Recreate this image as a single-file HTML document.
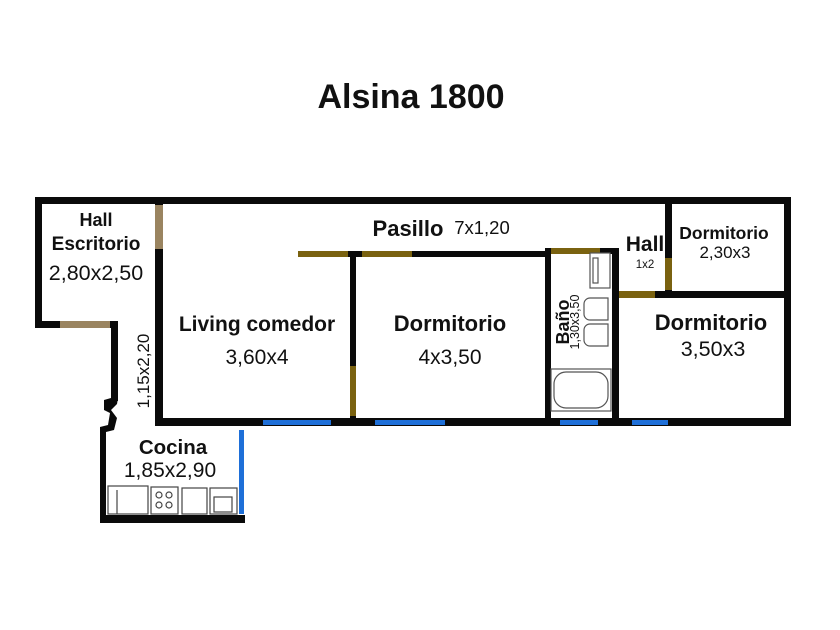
<!DOCTYPE html>
<html><head><style>
body{margin:0;background:#fff;}
svg{display:block;}
text{font-family:"Liberation Sans","DejaVu Sans",sans-serif;}
</style></head><body>
<svg width="840" height="630" viewBox="0 0 840 630" xmlns="http://www.w3.org/2000/svg">
<rect width="840" height="630" fill="#fff"/>
<text x="411" y="108" text-anchor="middle" font-size="34" font-weight="bold" fill="#111">Alsina 1800</text>
<g fill="#0a0a0a">
<rect x="35" y="197" width="756" height="7"/>
<rect x="35" y="197" width="7" height="131"/>
<rect x="35" y="321" width="82" height="7"/>
<rect x="155" y="197" width="8" height="229"/>
<rect x="111" y="321" width="7" height="80"/>
<polygon points="111,398 104,400 104,410 110,413 108,425 100,427 100,523 106,523 106,432 114,430 117,418 111,410 117,404 118,398"/>
<rect x="100" y="515" width="145" height="8"/>
<rect x="155" y="418" width="90" height="8"/>
<rect x="155" y="418" width="636" height="8"/>
<rect x="784" y="197" width="7" height="229"/>
<rect x="350" y="251" width="6" height="175"/>
<rect x="298" y="251" width="250" height="6"/>
<rect x="545" y="248" width="6" height="178"/>
<rect x="545" y="248" width="70" height="6"/>
<rect x="612" y="248" width="7" height="178"/>
<rect x="612" y="291" width="179" height="7"/>
<rect x="665" y="197" width="7" height="100"/>
</g>
<g fill="#7a6210">
<rect x="298" y="251" width="50" height="6"/>
<rect x="362" y="251" width="50" height="6"/>
<rect x="551" y="248" width="49" height="6"/>
<rect x="619" y="291" width="36" height="7"/>
<rect x="665" y="258" width="7" height="32"/>
<rect x="350" y="366" width="6" height="50"/>
</g>
<rect x="155" y="205" width="8" height="44" fill="#9a8460"/>
<rect x="60" y="321" width="50" height="7" fill="#9a8460"/>
<g fill="#1e6fd8">
<rect x="263" y="420" width="68" height="5"/>
<rect x="375" y="420" width="70" height="5"/>
<rect x="560" y="420" width="38" height="5"/>
<rect x="632" y="420" width="36" height="5"/>
<rect x="239" y="430" width="5" height="84"/>
</g>
<g fill="#fff" stroke="#444" stroke-width="1.2">
<rect x="108" y="486" width="40" height="28"/>
<line x1="117" y1="490" x2="117" y2="514"/>
<rect x="151" y="487" width="27" height="27"/>
<circle cx="159" cy="495" r="3"/><circle cx="169" cy="495" r="3"/>
<circle cx="159" cy="505" r="3"/><circle cx="169" cy="505" r="3"/>
<rect x="182" y="488" width="25" height="26"/>
<rect x="210" y="488" width="27" height="26"/>
<rect x="214" y="497" width="18" height="15"/>
</g>
<g fill="#fff" stroke="#555" stroke-width="1.2">
<rect x="590" y="253" width="20" height="35"/>
<rect x="593" y="258" width="5" height="25"/>
<path d="M590 298 h18 v22 h-18 a6 6 0 0 1 -6 -6 v-10 a6 6 0 0 1 6 -6z"/>
<path d="M590 324 h18 v22 h-18 a6 6 0 0 1 -6 -6 v-10 a6 6 0 0 1 6 -6z"/>
<rect x="551" y="369" width="60" height="42"/>
<rect x="554" y="372" width="54" height="36" rx="12"/>
</g>
<g fill="#111" text-anchor="middle">
<text x="96" y="226" font-size="18" font-weight="bold">Hall</text>
<text x="96" y="250" font-size="19" font-weight="bold">Escritorio</text>
<text x="96" y="280" font-size="21.5">2,80x2,50</text>
<text x="257" y="331" font-size="21" font-weight="bold">Living comedor</text>
<text x="257" y="364" font-size="21">3,60x4</text>
<text x="450" y="331" font-size="22" font-weight="bold">Dormitorio</text>
<text x="450" y="364" font-size="21">4x3,50</text>
<text x="408" y="236" font-size="22" font-weight="bold">Pasillo</text>
<text x="482" y="234" font-size="18.5">7x1,20</text>
<text x="645" y="251" font-size="21" font-weight="bold">Hall</text>
<text x="645" y="268" font-size="11.5">1x2</text>
<text x="724" y="239" font-size="17.5" font-weight="bold">Dormitorio</text>
<text x="725" y="258" font-size="17">2,30x3</text>
<text x="711" y="330" font-size="22" font-weight="bold">Dormitorio</text>
<text x="713" y="356" font-size="21.5">3,50x3</text>
<text x="173" y="454" font-size="20.5" font-weight="bold">Cocina</text>
<text x="170" y="477" font-size="21">1,85x2,90</text>
<text transform="translate(149,371) rotate(-90)" font-size="17">1,15x2,20</text>
<text transform="translate(569,322) rotate(-90)" font-size="18" font-weight="bold">Baño</text>
<text transform="translate(579,322) rotate(-90)" font-size="12.5">1,30x3,50</text>
</g>
</svg>
</body></html>
